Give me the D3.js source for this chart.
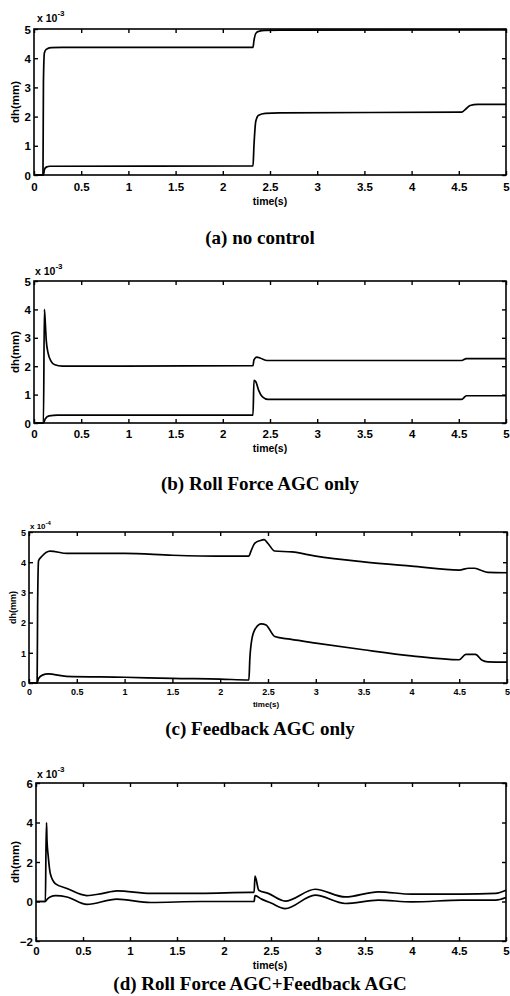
<!DOCTYPE html>
<html><head><meta charset="utf-8">
<script src="https://cdn.jsdelivr.net/npm/d3@7/dist/d3.min.js"></script>
<style>body{margin:0;background:#fff}svg{display:block}</style>
</head><body><svg id="chart" width="510" height="996"></svg>
<script>
// ---- shared tick data ----
const xTickValues = [0, 0.5, 1, 1.5, 2, 2.5, 3, 3.5, 4, 4.5, 5];
const xTickLabels = ["0", "0.5", "1", "1.5", "2", "2.5", "3", "3.5", "4", "4.5", "5"];
const yTicks05 = [0, 1, 2, 3, 4, 5];
const yTicksD = [-2, 0, 2, 4, 6];
const captions = ["(a) no control", "(b) Roll Force AGC only", "(c) Feedback AGC only", "(d) Roll Force AGC+Feedback AGC"];
const exponents = ["-3", "-3", "-4", "-3"];

// ---- (a) no control ----
const aUpperT = [0, 0.095, 0.1, 0.11, 0.13, 0.18, 0.3, 2.32, 2.33, 2.35, 2.38, 2.45, 2.6, 5];
const aUpperV = [0, 0, 3.2, 4.18, 4.3, 4.36, 4.37, 4.37, 4.6, 4.85, 4.92, 4.95, 4.96, 4.97];
const aLowerT = [0, 0.1, 0.11, 0.13, 0.17, 2.32, 2.33, 2.35, 2.38, 2.45, 2.6, 4.53, 4.57, 4.62, 4.7, 5];
const aLowerV = [0, 0, 0.18, 0.27, 0.3, 0.31, 1.0, 1.85, 2.05, 2.11, 2.13, 2.15, 2.25, 2.38, 2.42, 2.42];

// ---- (b) Roll Force AGC only ----
const bUpperT = [0, 0.1, 0.11, 0.12, 0.13, 0.15, 0.18, 0.22, 0.3, 2.32, 2.33, 2.36, 2.4, 2.47, 4.53, 4.58, 5];
const bUpperV = [0, 0, 4.0, 3.5, 2.9, 2.45, 2.18, 2.05, 2.0, 2.02, 2.22, 2.32, 2.28, 2.2, 2.2, 2.27, 2.27];
const bLowerT = [0, 0.1, 0.12, 0.16, 0.25, 2.32, 2.33, 2.35, 2.38, 2.42, 2.48, 4.53, 4.58, 5];
const bLowerV = [0, 0, 0.15, 0.25, 0.28, 0.28, 1.5, 1.45, 1.15, 0.92, 0.83, 0.83, 0.96, 0.96];

// ---- (c) Feedback AGC only ----
const cUpperT = [0, 0.085, 0.09, 0.1, 0.13, 0.22, 0.4, 1.0, 1.5, 2.0, 2.3, 2.32, 2.36, 2.42, 2.46, 2.5, 2.57, 2.75, 3.0, 3.5, 4.0, 4.5, 4.6, 4.66, 4.72, 4.8, 5];
const cUpperV = [0, 0, 2.5, 4.05, 4.18, 4.37, 4.29, 4.29, 4.23, 4.2, 4.2, 4.35, 4.62, 4.72, 4.75, 4.62, 4.37, 4.34, 4.2, 4.01, 3.87, 3.74, 3.8, 3.8, 3.74, 3.66, 3.65];
const cLowerT = [0, 0.085, 0.1, 0.14, 0.2, 0.39, 1.0, 1.5, 2.0, 2.3, 2.31, 2.33, 2.37, 2.43, 2.48, 2.57, 2.73, 3.0, 3.5, 4.0, 4.5, 4.57, 4.67, 4.74, 4.8, 5];
const cLowerV = [0, 0, 0.15, 0.26, 0.3, 0.22, 0.19, 0.15, 0.13, 0.1, 0.8, 1.43, 1.81, 1.96, 1.92, 1.54, 1.45, 1.32, 1.1, 0.9, 0.77, 0.95, 0.95, 0.75, 0.7, 0.69];

// ---- (d) Roll Force AGC + Feedback AGC ----
const dUpperT = [0, 0.1, 0.106, 0.112, 0.117, 0.13, 0.152, 0.205, 0.33, 0.54, 0.7, 0.86, 1.22, 1.75, 2.28, 2.32, 2.33, 2.37, 2.47, 2.65, 2.97, 3.29, 3.64, 4.0, 4.53, 4.89, 5];
const dUpperV = [0, 0, 2.6, 4.0, 3.1, 2.3, 1.42, 0.91, 0.66, 0.3, 0.4, 0.54, 0.41, 0.41, 0.46, 0.46, 1.28, 0.57, 0.41, 0.02, 0.62, 0.23, 0.49, 0.37, 0.37, 0.41, 0.57];
const dLowerT = [0, 0.1, 0.12, 0.15, 0.21, 0.33, 0.54, 0.86, 1.22, 1.75, 2.28, 2.32, 2.33, 2.4, 2.5, 2.65, 2.97, 3.29, 3.64, 4.0, 4.53, 4.89, 5];
const dLowerV = [0, 0, 0.12, 0.23, 0.3, 0.23, -0.15, 0.12, -0.05, 0.0, 0.0, 0.0, 0.3, 0.12, -0.08, -0.36, 0.32, -0.1, 0.07, -0.02, 0.07, 0.07, 0.2];

// ---- layout / style per panel (built from the arrays above) ----
const panels = [
  {l: 34, r: 506, t: 29, b: 175, yDom: [0, 5], yTicks: yTicks05, series: [[aUpperT, aUpperV], [aLowerT, aLowerV]],
   fs: 11.5, xLabY: 191, timeY: 205, timeX: 270, expY: 22, expX: 37, yLabX: 15, capY: 244, small: false},
  {l: 34, r: 506, t: 281, b: 423, yDom: [0, 5], yTicks: yTicks05, series: [[bUpperT, bUpperV], [bLowerT, bLowerV]],
   fs: 11.5, xLabY: 438, timeY: 452, timeX: 270, expY: 275, expX: 35, yLabX: 15, capY: 490, small: false},
  {l: 29, r: 507, t: 532, b: 683, yDom: [0, 5], yTicks: yTicks05, series: [[cUpperT, cUpperV], [cLowerT, cLowerV]],
   fs: 9, xLabY: 695, timeY: 707, timeX: 266, expY: 529, expX: 30, yLabX: 13, capY: 735, small: true},
  {l: 36, r: 506, t: 783, b: 941, yDom: [-2, 6], yTicks: yTicksD, series: [[dUpperT, dUpperV], [dLowerT, dLowerV]],
   fs: 11.5, xLabY: 955, timeY: 969, timeX: 270, expY: 778, expX: 37, yLabX: 15, capY: 990, small: false}
];

const svg = d3.select("#chart");
const sans = "'Liberation Sans', Arial, sans-serif";
const serif = "'Liberation Serif', 'Times New Roman', serif";

panels.forEach((p, i) => {
  const x = d3.scaleLinear().domain([0, 5]).range([p.l, p.r]);
  const y = d3.scaleLinear().domain(p.yDom).range([p.b, p.t]);
  const g = svg.append("g");
  const tk = 4;

  // bottom axis with labels
  const bx = g.append("g").attr("transform", `translate(0,${p.b})`)
    .call(d3.axisBottom(x).tickValues(xTickValues).tickFormat((d, k) => xTickLabels[k]).tickSize(-tk).tickSizeOuter(0));
  bx.selectAll("text").attr("y", p.xLabY - p.b).attr("dy", 0)
    .attr("font-family", sans).attr("font-weight", "bold").attr("font-size", p.fs).attr("fill", "#000");
  // top axis
  g.append("g").attr("transform", `translate(0,${p.t})`)
    .call(d3.axisTop(x).tickValues(xTickValues).tickFormat("").tickSize(-tk).tickSizeOuter(0));
  // left axis with labels
  const ly = g.append("g").attr("transform", `translate(${p.l},0)`)
    .call(d3.axisLeft(y).tickValues(p.yTicks).tickFormat(d3.format("d")).tickSize(-tk).tickSizeOuter(0));
  ly.selectAll("text").attr("x", -3).attr("dy", "0.36em")
    .attr("font-family", sans).attr("font-weight", "bold").attr("font-size", p.fs).attr("fill", "#000");
  // right axis
  g.append("g").attr("transform", `translate(${p.r},0)`)
    .call(d3.axisRight(y).tickValues(p.yTicks).tickFormat("").tickSize(-tk).tickSizeOuter(0));

  g.selectAll(".domain").remove();
  g.selectAll(".tick line").attr("stroke", "#000").attr("stroke-width", 1.4);

  // box
  g.append("rect").attr("x", p.l).attr("y", p.t).attr("width", p.r - p.l).attr("height", p.b - p.t)
    .attr("fill", "none").attr("stroke", "#000").attr("stroke-width", 1.6);

  // data lines
  const line = d3.line().x(d => x(d[0])).y(d => y(d[1])).curve(d3.curveMonotoneX);
  p.series.forEach(([T, V]) => {
    g.append("path").datum(d3.zip(T, V)).attr("d", line)
      .attr("fill", "none").attr("stroke", "#000").attr("stroke-width", 1.7).attr("stroke-linejoin", "round");
  });

  // exponent label
  const ex = g.append("text").attr("x", p.expX).attr("y", p.expY)
    .attr("font-family", sans).attr("font-weight", "bold").attr("font-size", p.small ? 8 : 10.5).attr("fill", "#000");
  ex.append("tspan").text("x 10");
  ex.append("tspan").attr("dy", p.small ? -4 : -6).attr("font-size", p.small ? 6 : 8).text(exponents[i]);

  // x label
  g.append("text").attr("x", p.timeX).attr("y", p.timeY).attr("text-anchor", "middle")
    .attr("font-family", sans).attr("font-weight", "bold").attr("font-size", p.small ? 8 : 10.5).attr("fill", "#000")
    .text("time(s)");
  // y label
  g.append("text").attr("transform", `translate(${p.yLabX},${(p.t + p.b) / 2}) rotate(-90)`)
    .attr("text-anchor", "middle").attr("dy", "0.35em")
    .attr("font-family", sans).attr("font-weight", "bold").attr("font-size", p.small ? 9 : 11.5).attr("fill", "#000")
    .text("dh(mm)");
  // caption
  g.append("text").attr("x", 260).attr("y", p.capY).attr("text-anchor", "middle")
    .attr("font-family", serif).attr("font-weight", "bold").attr("font-size", 19).attr("fill", "#000")
    .text(captions[i]);
});
</script>
</body></html>
